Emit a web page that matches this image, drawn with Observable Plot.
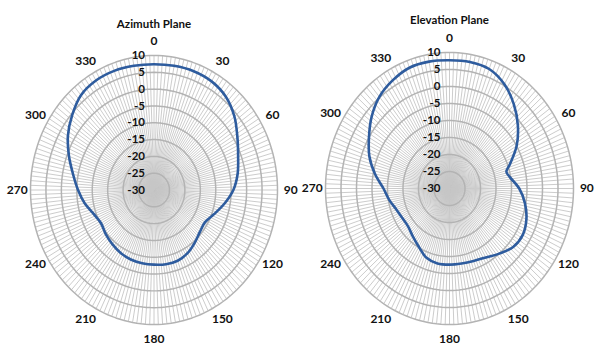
<!DOCTYPE html>
<html>
<head>
<meta charset="utf-8">
<script src="https://cdn.jsdelivr.net/npm/d3@7"></script>
<script src="https://cdn.jsdelivr.net/npm/@observablehq/plot@0.6"></script>
<style>
  html, body { margin: 0; padding: 0; background: #fff; }
  #wrap { width: 600px; height: 354px; display: flex; }
  #wrap svg { display: block; }
</style>
</head>
<body>
<div id="wrap"></div>
<script>
// ---- data ----
const angleTicks = [0, 30, 60, 90, 120, 150, 180, 210, 240, 270, 300, 330];
const radialTicks = [-30, -25, -20, -15, -10, -5, 0, 5, 10];
const rMin = -30, rMax = 10;

const azimuthAngles = [0, 10, 20, 30, 40, 50, 60, 70, 80, 90, 100, 110, 120, 130, 140, 150, 160, 170,
  180, 190, 200, 210, 220, 230, 240, 250, 260, 270, 280, 290, 300, 310, 320, 330, 340, 350];
const azimuthValues = [7.4, 7.5, 7.6, 7.3, 6.2, 4.0, 1.2, -1.0, -2.5, -4.3, -6.8, -9.2, -10.9, -10.6, -9.5, -8.3, -7.6, -7.6,
  -7.8, -7.9, -8.0, -8.4, -9.0, -9.6, -10.2, -9.2, -7.2, -5.4, -3.4, -0.7, 2.2, 4.6, 6.8, 7.6, 7.7, 7.5];

const elevationAngles = [0, 10, 20, 30, 40, 50, 60, 70, 75, 80, 90, 100, 110, 120, 130, 140, 150, 160, 170,
  180, 190, 200, 210, 220, 230, 240, 250, 260, 270, 280, 290, 300, 310, 320, 330, 340, 350];
const elevationValues = [7.7, 7.8, 7.4, 5.4, 2.3, -1.2, -5.0, -9.3, -11.0, -10.3, -7.5, -5.3, -3.6, -2.7, -3.2, -5.0, -6.6, -7.3, -7.6,
  -7.6, -7.6, -8.3, -10.2, -11.6, -12.6, -12.5, -11.8, -10.3, -8.7, -5.6, -2.5, 0.0, 2.8, 5.2, 6.7, 7.8, 7.9];

const titles = ["Azimuth Plane", "Elevation Plane"];

// ---- helpers ----
const R = rMax - rMin;
const rad = a => a * Math.PI / 180;
const px = (a, v) => (v - rMin) * Math.sin(rad(a));
const py = (a, v) => (v - rMin) * Math.cos(rad(a));
const labelR = 14.3; // value position of angle labels (outside the ring)
const spokeAngles = d3.range(0, 360, 2);
const ringSteps = d3.range(0, 361, 2);

function polarChart(title, angles, values, xRange, yRange, titleDy) {
  const pts = angles.map((a, i) => ({a, v: values[i]}));
  const rings = radialTicks.filter(v => v > rMin).flatMap(v => ringSteps.map(a => ({a, v})));
  const font = "Lato, 'Open Sans', sans-serif";
  return Plot.plot({
    width: 300, height: 354, margin: 0,
    style: {fontFamily: font, background: "#fff", overflow: "visible"},
    x: {domain: [-R, R], range: xRange, axis: null},
    y: {domain: [-R, R], range: yRange, axis: null},
    marks: [
      Plot.link(spokeAngles, {x1: 0, y1: 0, x2: a => px(a, rMax), y2: a => py(a, rMax),
        stroke: "#c6c6c6", strokeWidth: 0.9}),
      Plot.line(rings, {x: d => px(d.a, d.v), y: d => py(d.a, d.v), z: "v",
        stroke: "#b3b3b3", strokeWidth: 1.5}),
      Plot.line(pts, {x: d => px(d.a, d.v), y: d => py(d.a, d.v), curve: "catmull-rom-closed",
        stroke: "#2e5c9e", strokeWidth: 2.6}),
      Plot.text(radialTicks, {x: 0, y: v => v - rMin, text: v => String(v), textAnchor: "end", dx: -9,
        fontSize: 11.5, fontWeight: "bold", fill: "#111"}),
      Plot.text(angleTicks, {x: a => px(a, labelR), y: a => py(a, labelR), text: a => String(a),
        fontSize: 12, fontWeight: "bold", fill: "#111"}),
      Plot.text([title], {x: () => 0, frameAnchor: "top", dy: titleDy, text: d => d,
        fontSize: 11.5, fontWeight: "bold", fill: "#111"})
    ]
  });
}

const wrap = document.getElementById("wrap");
wrap.appendChild(polarChart(titles[0], azimuthAngles, azimuthValues, [30, 277], [324, 55], 19));
wrap.appendChild(polarChart(titles[1], elevationAngles, elevationValues, [25, 273], [324, 52], 15));
</script>
</body>
</html>
